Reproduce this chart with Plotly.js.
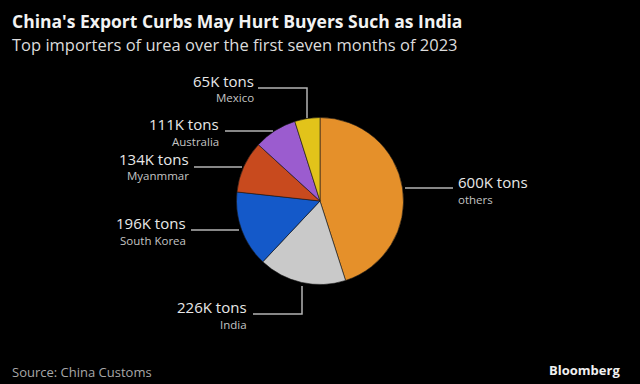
<!DOCTYPE html>
<html>
<head>
<meta charset="utf-8">
<script src="https://cdn.plot.ly/plotly-3.0.1.min.js"></script>
<style>html,body{margin:0;padding:0;background:#000;}#chart{width:640px;height:384px;}</style>
</head>
<body>
<div id="chart"></div>
<script>
const categories = ["others", "India", "South Korea", "Myanmmar", "Australia", "Mexico"];
const valuesK = [600, 226, 196, 134, 111, 65];
const colors = ["#E5902A", "#C9C9C9", "#1459C9", "#C84A1E", "#9B5CCF", "#E2C31A"];

const W = 640, H = 384;
const px = x => x / W;
const py = y => 1 - y / H;

const FONT = "Open Sans, Noto Sans, sans-serif";
const lineCol = "#b4b4b4";

// label layout (pixel positions): value label anchor, name anchor, leader path
const labelLayout = {
  "Mexico":      {x: 256, y: 81,  xa: "right", path: [[258,88],[307,88],[307,118]]},
  "Australia":   {x: 221, y: 124, xa: "right", path: [[225,131],[273,131]]},
  "Myanmmar":    {x: 191, y: 159, xa: "right", path: [[194,167],[242,167]]},
  "South Korea": {x: 188, y: 223, xa: "right", path: [[191,230],[239,230]]},
  "India":       {x: 249, y: 307, xa: "right", path: [[253,314],[302,314],[302,286]]},
  "others":      {x: 456, y: 182, xa: "left",  path: [[405,188],[453,188]]}
};

const annotations = [];
const shapes = [];
categories.forEach((c, i) => {
  const L = labelLayout[c];
  annotations.push({
    xref: "paper", yref: "paper", x: px(L.x), y: py(L.y),
    xanchor: L.xa, yanchor: "middle", showarrow: false,
    text: valuesK[i] + "K tons",
    font: {family: FONT, size: 15, color: "#e8e8e8"}
  });
  annotations.push({
    xref: "paper", yref: "paper", x: px(L.x), y: py(L.y + 17),
    xanchor: L.xa, yanchor: "middle", showarrow: false,
    text: c,
    font: {family: FONT, size: 11.5, color: "#c4c4c4"}
  });
  const d = L.path.map((p, k) => (k === 0 ? "M" : "L") + px(p[0]) + "," + py(p[1])).join(" ");
  shapes.push({type: "path", xref: "paper", yref: "paper", path: d,
    line: {color: lineCol, width: 1.5}});
});

annotations.push({
  xref: "paper", yref: "paper", x: px(10), y: py(21), xanchor: "left", yanchor: "middle",
  showarrow: false, text: "<b>China's Export Curbs May Hurt Buyers Such as India</b>",
  font: {family: FONT, size: 17.5, color: "#f2f2f2"}
});
annotations.push({
  xref: "paper", yref: "paper", x: px(10), y: py(44), xanchor: "left", yanchor: "middle",
  showarrow: false, text: "Top importers of urea over the first seven months of 2023",
  font: {family: FONT, size: 16.5, color: "#dcdcdc"}
});
annotations.push({
  xref: "paper", yref: "paper", x: px(10), y: py(372), xanchor: "left", yanchor: "middle",
  showarrow: false, text: "Source: China Customs",
  font: {family: FONT, size: 13, color: "#a8a8a8"}
});
annotations.push({
  xref: "paper", yref: "paper", x: px(622), y: py(370), xanchor: "right", yanchor: "middle",
  showarrow: false, text: "<b>Bloomberg</b>",
  font: {family: FONT, size: 13, color: "#f0f0f0"}
});

const cx = 320, cy = 201, r = 83.5;
const trace = {
  type: "pie",
  labels: categories,
  values: valuesK,
  sort: false,
  direction: "clockwise",
  rotation: 0,
  textinfo: "none",
  hoverinfo: "label+value",
  marker: {colors: colors, line: {color: "#1a1a1a", width: 0.6}},
  domain: {x: [px(cx - r), px(cx + r)], y: [py(cy + r), py(cy - r)]},
  showlegend: false
};

Plotly.newPlot("chart", [trace], {
  width: W, height: H,
  margin: {l: 0, r: 0, t: 0, b: 0},
  paper_bgcolor: "#000", plot_bgcolor: "#000",
  annotations: annotations,
  shapes: shapes,
  showlegend: false
}, {displayModeBar: false, staticPlot: true});
</script>
</body>
</html>
